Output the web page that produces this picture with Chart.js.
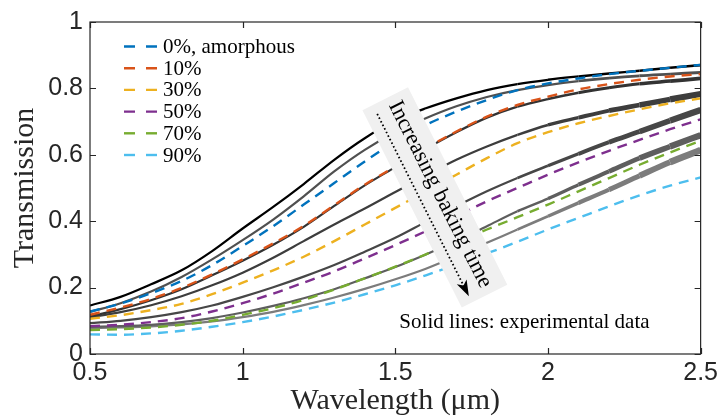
<!DOCTYPE html>
<html><head><meta charset="utf-8">
<script src="https://cdn.jsdelivr.net/npm/chart.js@4"></script>
<style>html,body{margin:0;padding:0;background:#fff;}#wrap{width:722px;height:416px;}</style>
</head><body><div id="wrap"><canvas id="c" width="722" height="416"></canvas></div>
<script>
// ---- data ----
const wavelengths = [0.5,0.6,0.7,0.8,0.9,1.0,1.1,1.2,1.3,1.4,1.5,1.6,1.7,1.8,1.9,2.0,2.1,2.2,2.3,2.4,2.5];
// simulated (dashed) series
const sim0  = [0.128,0.152,0.183,0.220,0.268,0.325,0.385,0.450,0.515,0.580,0.640,0.690,0.730,0.765,0.795,0.815,0.830,0.843,0.853,0.862,0.871];
const sim10 = [0.118,0.140,0.166,0.199,0.240,0.285,0.333,0.386,0.448,0.510,0.565,0.620,0.670,0.715,0.750,0.775,0.797,0.813,0.826,0.836,0.843];
const sim30 = [0.106,0.117,0.132,0.151,0.180,0.215,0.252,0.293,0.340,0.390,0.440,0.490,0.540,0.590,0.635,0.668,0.695,0.717,0.737,0.755,0.770];
const sim50 = [0.084,0.088,0.096,0.108,0.128,0.153,0.182,0.215,0.249,0.288,0.328,0.370,0.415,0.460,0.500,0.540,0.577,0.612,0.645,0.677,0.707];
const sim70 = [0.072,0.075,0.080,0.088,0.100,0.118,0.138,0.163,0.194,0.228,0.263,0.300,0.338,0.375,0.412,0.450,0.490,0.530,0.570,0.607,0.642];
const sim90 = [0.059,0.058,0.062,0.070,0.082,0.096,0.113,0.133,0.155,0.180,0.207,0.237,0.270,0.303,0.338,0.375,0.410,0.445,0.478,0.507,0.532];
// experimental (solid) series, increasing baking time
const exp1 = [0.146,0.172,0.210,0.252,0.310,0.378,0.443,0.512,0.585,0.650,0.703,0.740,0.770,0.795,0.813,0.826,0.836,0.845,0.853,0.862,0.870];
const exp2 = [0.127,0.153,0.188,0.232,0.285,0.343,0.405,0.475,0.550,0.615,0.668,0.710,0.746,0.774,0.795,0.810,0.822,0.831,0.838,0.843,0.848];
const exp3 = [0.113,0.135,0.162,0.195,0.237,0.281,0.329,0.383,0.446,0.508,0.563,0.618,0.668,0.712,0.745,0.768,0.787,0.802,0.814,0.822,0.830];
const exp4 = [0.110,0.126,0.147,0.174,0.207,0.245,0.290,0.340,0.390,0.438,0.488,0.538,0.585,0.625,0.660,0.690,0.712,0.733,0.750,0.767,0.783];
const exp5 = [0.093,0.100,0.111,0.126,0.146,0.172,0.201,0.233,0.268,0.308,0.350,0.398,0.445,0.490,0.530,0.567,0.603,0.638,0.670,0.703,0.735];
const exp6 = [0.082,0.084,0.088,0.096,0.108,0.125,0.145,0.168,0.195,0.228,0.262,0.300,0.340,0.385,0.430,0.468,0.510,0.550,0.590,0.625,0.659];
const exp7 = [0.078,0.080,0.083,0.089,0.098,0.111,0.127,0.147,0.170,0.196,0.225,0.257,0.295,0.335,0.375,0.415,0.455,0.495,0.537,0.578,0.614];

const legendLabels = ['0%, amorphous','10%','30%','50%','70%','90%'];
const xTickValues = [0.5,1,1.5,2,2.5];
const xTickLabels = ['0.5','1','1.5','2','2.5'];
const yTickValues = [0,0.2,0.4,0.6,0.8,1];
const yTickLabels = ['0','0.2','0.4','0.6','0.8','1'];
const xTitle = 'Wavelength (\u03bcm)';
const yTitle = 'Transmission';
const annotText = 'Increasing baking time';
const noteText = 'Solid lines: experimental data';

// ---- styles ----
const simSeries = [sim0, sim10, sim30, sim50, sim70, sim90];
const simColors = ['#0072BD','#D95319','#EDB120','#7E2F8E','#77AC30','#4DBEEE'];
const expSeries = [exp1, exp2, exp3, exp4, exp5, exp6, exp7];
const expColors = ['#000000','#505050','#333333','#3d3d3d','#474747','#5e5e5e','#7c7c7c'];
const expNoise  = [0.4, 0.8, 1.6, 4, 4, 4, 4.5];
const SERIF = '"Liberation Serif", "Times New Roman", serif';
const SANS = '"Liberation Sans", Arial, sans-serif';
const INK = '#262626';

const pts = arr => wavelengths.map((w,i)=>({x:w, y:arr[i]}));
const datasets = [];
simSeries.forEach((s,i)=>datasets.push({
  label: legendLabels[i], data: pts(s), borderColor: simColors[i], borderWidth: 2.4,
  borderDash: [10,7], pointRadius: 0, fill: false, cubicInterpolationMode: 'monotone', order: 0
}));
expSeries.forEach((s,i)=>datasets.push({
  label: 'exp'+i, data: pts(s), borderColor: expColors[i], borderWidth: 2.2,
  pointRadius: 0, fill: false, cubicInterpolationMode: 'monotone', order: 1,
  segment: { borderWidth: ctx => 2.2 + expNoise[i] * Math.max(0, (ctx.p1.parsed.x - 1.95) / 0.55) }
}));

const overlay = {
  id: 'overlay',
  afterDatasetsDraw(chart) {
    const {ctx, chartArea: a, scales: {x, y}} = chart;
    ctx.save();
    // annotation box
    const ox = x.getPixelForValue(1.467), oy = y.getPixelForValue(0.769);
    ctx.translate(ox, oy);
    ctx.rotate(63.3 * Math.PI / 180);
    ctx.fillStyle = '#f0f0f0';
    ctx.fillRect(0, -25.5, 221, 51);
    ctx.fillStyle = '#000';
    ctx.font = '22.5px ' + SERIF;
    ctx.textBaseline = 'alphabetic';
    ctx.textAlign = 'left';
    ctx.fillText(annotText, 7, 0);
    ctx.strokeStyle = '#000';
    ctx.lineWidth = 1.8;
    ctx.setLineDash([1.6, 2.4]);
    ctx.beginPath(); ctx.moveTo(10, 14); ctx.lineTo(204, 14); ctx.stroke();
    ctx.setLineDash([]);
    ctx.beginPath(); ctx.moveTo(214, 14); ctx.lineTo(198, 8.5); ctx.lineTo(202, 14); ctx.lineTo(198, 19.5); ctx.closePath(); ctx.fill();
    ctx.restore();

    ctx.save();
    // note text
    ctx.fillStyle = '#000';
    ctx.font = '21px ' + SERIF;
    ctx.textAlign = 'center';
    ctx.textBaseline = 'alphabetic';
    ctx.fillText(noteText, x.getPixelForValue(1.923), y.getPixelForValue(0.078));
    // legend
    ctx.textAlign = 'left';
    ctx.textBaseline = 'middle';
    legendLabels.forEach((lab, i) => {
      const ly = a.top + 24.5 + i * 21.7;
      ctx.strokeStyle = simColors[i];
      ctx.lineWidth = 2.4;
      ctx.setLineDash([11, 11]);
      ctx.beginPath(); ctx.moveTo(a.left + 34, ly); ctx.lineTo(a.left + 67, ly); ctx.stroke();
      ctx.setLineDash([]);
      ctx.fillStyle = '#000';
      ctx.fillText(lab, a.left + 73, ly + 1);
    });
    // frame
    ctx.strokeStyle = INK;
    ctx.lineWidth = 1.2;
    ctx.strokeRect(a.left, a.top, a.right - a.left, a.bottom - a.top);
    // inward ticks
    ctx.beginPath();
    xTickValues.forEach(v => {
      const px = Math.round(x.getPixelForValue(v)) + 0.5;
      ctx.moveTo(px, a.bottom); ctx.lineTo(px, a.bottom - 6);
      ctx.moveTo(px, a.top); ctx.lineTo(px, a.top + 6);
    });
    yTickValues.forEach(v => {
      const py = Math.round(y.getPixelForValue(v)) + 0.5;
      ctx.moveTo(a.left, py); ctx.lineTo(a.left + 6, py);
      ctx.moveTo(a.right, py); ctx.lineTo(a.right - 6, py);
    });
    ctx.stroke();
    ctx.restore();
  }
};

new Chart(document.getElementById('c'), {
  type: 'line',
  data: { datasets },
  options: {
    responsive: false, animation: false, devicePixelRatio: 1,
    layout: { padding: { left: 0, right: 17, top: 19, bottom: 0 } },
    plugins: { legend: { display: false }, tooltip: { enabled: false } },
    scales: {
      x: {
        type: 'linear', min: 0.5, max: 2.5,
        afterBuildTicks: s => { s.ticks = xTickValues.map(v => ({value: v})); },
        afterFit: s => { s.height = 62; },
        grid: { display: false, drawTicks: false }, border: { display: false },
        ticks: { padding: 4, color: INK, font: { family: SANS, size: 25 }, maxRotation: 0,
                 callback: (v, i) => xTickLabels[i] },
        title: { display: true, text: xTitle, color: INK, font: { family: SERIF, size: 30, lineHeight: 1.0 }, padding: { top: 0, bottom: 0 } }
      },
      y: {
        type: 'linear', min: 0, max: 1,
        afterBuildTicks: s => { s.ticks = yTickValues.map(v => ({value: v})); },
        afterFit: s => { s.width = 90; },
        grid: { display: false, drawTicks: false }, border: { display: false },
        ticks: { padding: 7, color: INK, font: { family: SANS, size: 25 },
                 callback: (v, i) => yTickLabels[i] },
        title: { display: true, text: yTitle, color: INK, font: { family: SERIF, size: 30, lineHeight: 1.0 }, padding: { top: 10, bottom: 0 } }
      }
    }
  },
  plugins: [overlay]
});
</script></body></html>
